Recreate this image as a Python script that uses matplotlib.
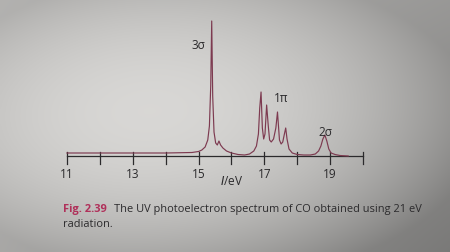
"""
UV photoelectron spectrum of CO (textbook figure, photographed page)
"""

import matplotlib.pyplot as plt
import numpy as np

# spectrum trace: ionisation energy (eV), height above axis (px units)
energy = [11.0, 12.0, 13.0, 14.0, 14.8, 15.0, 15.1, 15.2, 15.28, 15.33, 15.37, 15.40,
          15.43, 15.47, 15.52, 15.57, 15.62, 15.67, 15.74, 15.85, 16.0, 16.2,
          16.4, 16.55, 16.68, 16.76, 16.82, 16.86, 16.90, 16.94, 16.98, 17.02,
          17.07, 17.12, 17.16, 17.21, 17.28, 17.35, 17.40, 17.43, 17.46, 17.51,
          17.56, 17.61, 17.65, 17.69, 17.75, 17.85, 18.0, 18.2, 18.4, 18.55,
          18.65, 18.72, 18.78, 18.84, 18.90, 18.96, 19.03, 19.15, 19.3, 19.55]
intensity = [3, 3, 3, 3, 3.5, 4.5, 6, 9, 16, 30, 70, 135,
             60, 24, 13, 11, 15, 11, 8, 5, 3, 1.5,
             1, 2, 5, 10, 22, 48, 64, 28, 17, 22,
             51, 30, 16, 14, 17, 28, 44, 30, 16, 12,
             14, 22, 28, 17, 7, 3, 1.5, 1, 1, 2,
             5, 10, 17, 21, 15, 7, 3, 1.5, 0.5, 0]

ticks = [11, 12, 13, 14, 15, 16, 17, 18, 19, 20]
tick_labels = ['11', '', '13', '', '15', '', '17', '', '19', '']
peak_names = ['3σ', '1π', '2σ']
peak_label_pos = [(15.0, 112), (17.5, 59), (18.85, 24)]

W, H = 450, 253
fig = plt.figure(figsize=(W / 100, H / 100), dpi=100)

# photographed paper background: light in the middle, darker corners (right side darkest)
bg = fig.add_axes([0, 0, 1, 1])
yy, xx = np.mgrid[0:1:120j, 0:1:200j]
tl, tr, bl, br = 0.70, 0.60, 0.66, 0.48
corners = tl * (1 - xx) * (1 - yy) + tr * xx * (1 - yy) + bl * (1 - xx) * yy + br * xx * yy
r2 = ((xx - 0.45) / 0.62) ** 2 + ((yy - 0.5) / 0.62) ** 2
shade = np.clip(corners + 0.22 * np.clip(1 - r2, 0, 1), 0, 1)
rgb = np.dstack([shade, shade * 0.995, shade * 0.985])
bg.imshow(rgb, extent=[0, 1, 0, 1], aspect='auto', origin='upper', interpolation='bilinear')
bg.axis('off')

# main axes in "pixel-like" data units: 11 eV at x=67 px, 20 eV at x=363 px, axis line 157 px from top
ax = fig.add_axes([0, 0, 1, 1])
ax.patch.set_alpha(0)
px_per_ev = (363 - 67) / 9.0
ax.set_xlim(11 - 67 / px_per_ev, 20 + (W - 363) / px_per_ev)
ax.set_ylim(-(H - 157), 157)
ax.axis('off')

ink = '#2b2a2c'
ax.plot([11, 20], [0, 0], color=ink, lw=0.9)
for t, lab in zip(ticks, tick_labels):
    ax.plot([t, t], [4, -8], color=ink, lw=0.9)
    if lab:
        ax.text(t, -17, lab, ha='center', va='center', fontsize=8.5, color=ink, family='Open Sans')

ax.plot(energy, intensity, color='#7d3a50', lw=0.85)

for name, (x, y) in zip(peak_names, peak_label_pos):
    ax.text(x, y, name, ha='center', va='center', fontsize=8.5, color=ink, family='Open Sans')

ax.text(16.0, -25, '$\\it{I}$/eV', ha='center', va='center', fontsize=8.5, color=ink, family='Open Sans')

# caption
cap_x = 11 - 4 / px_per_ev
ax.text(cap_x, -53, 'Fig. 2.39', ha='left', va='center', fontsize=7.9, color='#b0305a',
        family='Open Sans', weight='bold')
ax.text(cap_x + 51 / px_per_ev, -53, 'The UV photoelectron spectrum of CO obtained using 21 eV',
        ha='left', va='center', fontsize=7.9, color=ink, family='Open Sans')
ax.text(cap_x, -68, 'radiation.', ha='left', va='center', fontsize=7.9, color=ink, family='Open Sans')

fig.savefig('out.png', dpi=100)
